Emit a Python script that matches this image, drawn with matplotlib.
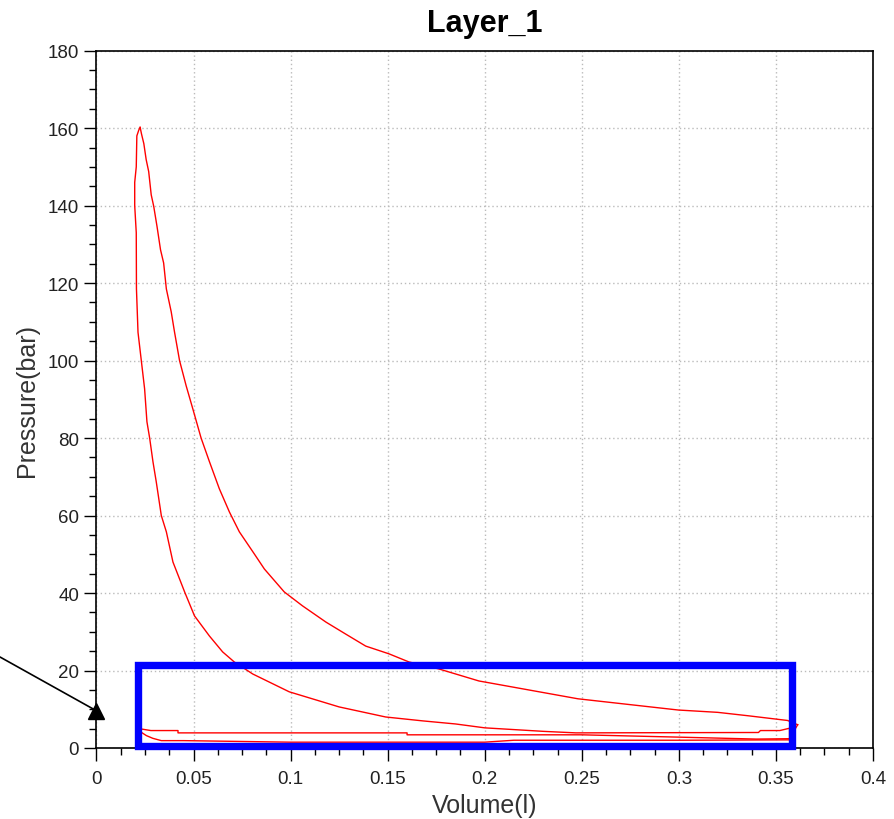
import matplotlib
matplotlib.use("Agg")
import matplotlib.pyplot as plt
from matplotlib.patches import Rectangle
from matplotlib.ticker import MultipleLocator

plt.rcParams['font.family'] = ['Liberation Sans', 'DejaVu Sans']

# cycle pieces (volume in l, pressure in bar)
vol_exp = [0.0225, 0.0232, 0.0244, 0.0256, 0.0269, 0.0282, 0.0295, 0.0312, 0.033, 0.0346,
           0.036, 0.0385, 0.0402, 0.0428, 0.0462, 0.0496, 0.0539, 0.0582, 0.0633, 0.0685,
           0.0736, 0.0813, 0.0865, 0.0967, 0.1061, 0.1182, 0.1284, 0.1387, 0.1507, 0.161,
           0.1764, 0.197, 0.248, 0.2997, 0.32, 0.336, 0.346, 0.356, 0.3612]
p_exp = [160.2, 158.5, 156.0, 151.9, 148.8, 142.8, 139.8, 134.6, 128.6, 125.2,
         118.5, 112.6, 107.4, 100.0, 93.5, 87.6, 80.0, 73.9, 66.9, 60.9,
         55.8, 50.1, 46.2, 40.3, 36.7, 32.5, 29.4, 26.3, 24.3, 22.2,
         20.4, 17.3, 12.7, 9.8, 9.2, 8.3, 7.7, 7.1, 6.0]

vol_exh = [0.3612, 0.357, 0.34, 0.30, 0.25, 0.16, 0.16, 0.042, 0.042, 0.028, 0.0231]
p_exh = [6.0, 2.4, 2.3, 2.8, 3.4, 3.4, 3.9, 3.9, 4.5, 4.5, 4.9]

vol_int = [0.0231, 0.0257, 0.029, 0.0334, 0.045, 0.10, 0.20, 0.215, 0.30, 0.357]
p_int = [4.05, 3.2, 2.5, 1.9, 1.9, 1.5, 1.5, 2.0, 2.0, 2.1]

vol_comp = [0.357, 0.357, 0.352, 0.342, 0.341, 0.247, 0.23, 0.21, 0.2, 0.185, 0.168, 0.149,
            0.125, 0.0993, 0.0805, 0.071, 0.065, 0.0582, 0.0505, 0.0454, 0.0394, 0.036,
            0.0334, 0.0308, 0.0291, 0.0274, 0.026, 0.0248, 0.0231, 0.0214, 0.0206, 0.0205,
            0.0197, 0.0197, 0.0205, 0.0208, 0.0218, 0.0225]
p_comp = [2.1, 5.1, 4.5, 4.5, 4.0, 3.9, 4.3, 4.9, 5.2, 6.2, 7.0, 8.0,
          10.6, 14.5, 19.1, 22.2, 24.8, 28.9, 34.1, 40.3, 48.0, 55.8,
          60.0, 68.7, 73.9, 80.0, 84.2, 92.7, 100.0, 107.3, 118.5, 133.0,
          140.0, 146.0, 150.0, 158.0, 159.5, 160.2]

# highlight box and pointer
box_vol = (0.0212, 0.3582)
box_p = (0.6, 21.4)
arrow_tip = (0.0, 9.6)
arrow_tail = (0.0, 1 - 658 / 820)   # figure fraction

fig = plt.figure(figsize=(8.94, 8.2), dpi=100)
ax = fig.add_axes([0.1079, 0.0866, 0.8686, 0.8504])

for v, p in [(vol_exp, p_exp), (vol_exh, p_exh), (vol_int, p_int), (vol_comp, p_comp)]:
    ax.plot(v, p, color='#ff0000', lw=1.0, zorder=3, clip_on=False)

ax.add_patch(Rectangle((box_vol[0], box_p[0]), box_vol[1] - box_vol[0], box_p[1] - box_p[0],
                       fill=False, edgecolor='#0000ff', lw=5.3, zorder=4, clip_on=False))

ax.annotate('', xy=arrow_tip, xycoords='data', xytext=arrow_tail, textcoords='figure fraction',
            arrowprops=dict(arrowstyle='-', color='black', lw=1.2, shrinkA=0, shrinkB=0),
            annotation_clip=False)
ax.plot([arrow_tip[0]], [arrow_tip[1]], marker='^', color='black', markersize=11,
        clip_on=False, zorder=5)

ax.set_xlim(0, 0.4)
ax.set_ylim(0, 180)
ax.xaxis.set_major_locator(MultipleLocator(0.05))
ax.xaxis.set_minor_locator(MultipleLocator(0.0125))
ax.yaxis.set_major_locator(MultipleLocator(20))
ax.yaxis.set_minor_locator(MultipleLocator(5))
ax.set_xticklabels([f"{t:g}" for t in ax.get_xticks()])

ax.grid(True, which='major', color='#bbbbbb', linestyle=(0, (1, 2)), lw=1.0)
ax.tick_params(which='major', direction='out', length=9, width=1.0, labelsize=13.5,
               labelcolor='#222222')
ax.tick_params(which='minor', direction='out', length=5, width=1.0)
ax.tick_params(axis='x', which='major', pad=7)
for s in ax.spines.values():
    s.set_linewidth(1.2)

ax.set_title('Layer_1', fontsize=22, fontweight='bold', pad=14)
ax.set_xlabel('Volume(l)', fontsize=18, color='#333333', labelpad=4)
ax.set_ylabel('Pressure(bar)', fontsize=18, color='#333333', labelpad=6)

fig.savefig('out.png', dpi=100)
